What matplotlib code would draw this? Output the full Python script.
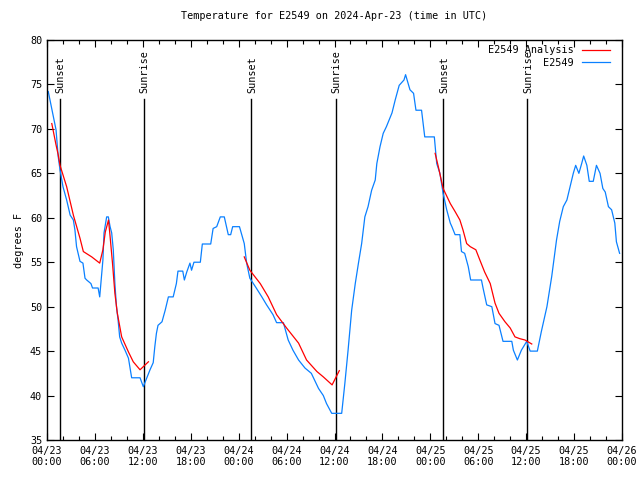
import matplotlib
matplotlib.use("Agg")
import matplotlib.pyplot as plt
from matplotlib.ticker import MultipleLocator

# ---- data (hours since 2024-04-23 00:00 UTC) ----
obs_hours = [0.16, 0.8, 1.13, 1.4, 1.63, 2.0, 2.46, 2.9, 3.3, 3.5, 3.7, 4.13, 4.5, 4.76, 4.97,
             5.5, 5.7, 6.4, 6.6, 7.0, 7.14, 7.47, 7.68, 7.9, 8.1, 8.3, 8.5, 8.7, 8.9, 9.1,
             9.35, 9.77, 10.2, 10.6, 11.65, 12.06, 12.5, 12.9, 13.3, 13.5, 13.7, 13.9, 14.4,
             14.8, 15.2, 15.8, 16.2, 16.4, 17.0, 17.2, 17.5, 17.9, 18.1, 18.4, 19.2, 19.45,
             20.5, 20.8, 21.25, 21.7, 22.2, 22.7, 23.0, 23.25, 24.1, 24.7, 25.0, 25.4, 26.2,
             26.9, 27.5, 28.3, 28.75, 29.6, 30.2, 30.8, 31.5, 32.3, 33.1, 34.0, 34.6, 35.0,
             35.65, 36.9, 37.3, 37.7, 38.15, 38.6, 39.0, 39.4, 39.8, 40.2, 40.65, 41.1, 41.3,
             41.7, 42.1, 42.5, 43.2, 43.6, 44.1, 44.7, 44.9, 45.45, 45.9, 46.2, 46.9, 47.3,
             48.5, 48.8, 49.2, 49.6, 50.05, 50.5, 50.7, 51.1, 51.7, 51.9, 52.3, 52.75, 53.05,
             54.4, 54.6, 55.06, 55.7, 56.1, 56.6, 57.1, 58.2, 58.4, 58.9, 59.4, 60.07, 60.5,
             61.4, 61.9, 62.6, 63.2, 63.8, 64.2, 64.65, 65.1, 65.5, 65.9, 66.2, 66.6, 66.95,
             67.2, 67.6, 67.9, 68.4, 68.8, 69.25, 69.6, 69.9, 70.3, 70.7, 71.1, 71.3, 71.7]
obs_temps = [74.2, 71.4, 69.9, 66.9, 65.4, 63.5, 62.0, 60.3, 59.75, 58.6, 56.75, 55.1, 54.9, 53.2, 53.0,
             52.6, 52.1, 52.1, 51.1, 55.25, 58.3, 60.1, 60.1, 59.0, 58.3, 56.4, 52.6, 50.0, 48.5, 46.6,
             45.9, 45.1, 44.2, 42.0, 42.0, 41.0, 42.0, 42.9, 43.7, 45.5, 47.0, 47.9, 48.3,
             49.6, 51.1, 51.1, 52.6, 54.0, 54.0, 53.0, 53.9, 54.9, 54.1, 55.0, 55.0, 57.05,
             57.05, 58.8, 59.0, 60.1, 60.1, 58.1, 58.1, 59.0, 59.0, 57.1, 54.9, 53.2, 52.1,
             51.1, 50.2, 49.1, 48.2, 48.2, 46.25, 45.1, 44.0, 43.1, 42.5, 40.8, 40.0, 39.1,
             38.0, 38.0, 41.4, 45.1, 49.6, 52.6, 54.9, 57.1, 60.1, 61.25, 63.1, 64.25, 66.1,
             68.0, 69.5, 70.25, 71.8, 73.25, 74.9, 75.5, 76.1, 74.4, 74.0, 72.1, 72.1, 69.1,
             69.1, 66.1, 65.0, 62.75, 60.9, 59.4, 59.0, 58.1, 58.1, 56.2, 56.0, 54.5, 53.0,
             53.0, 52.1, 50.2, 50.0, 48.1, 47.9, 46.1, 46.1, 45.1, 44.0, 45.1, 46.1, 45.0,
             45.0, 47.2, 50.0, 53.4, 57.5, 59.6, 61.25, 62.0, 63.5, 65.0, 65.9, 65.0, 66.1,
             66.95, 65.9, 64.1, 64.1, 65.9, 65.0, 63.3, 62.9, 61.25, 60.9, 59.4, 57.3, 56.0]

ana1_hours = [0.6, 1.13, 1.4, 1.63, 2.46, 3.3, 4.13, 4.55, 5.6, 6.6, 7.0, 7.3, 7.7, 7.9, 8.2,
              8.5, 8.8, 9.35, 10.2, 10.8, 11.65, 12.7]
ana1_temps = [70.6, 68.2, 67.1, 65.9, 63.5, 60.3, 57.7, 56.2, 55.6, 54.9, 56.4, 58.4, 59.75, 57.9, 54.9,
              51.5, 49.3, 46.6, 44.9, 43.8, 42.9, 43.8]
ana2_hours = [24.7, 25.4, 26.7, 27.7, 28.75, 30.0, 31.5, 32.5, 33.8, 34.6, 35.7, 36.6]
ana2_temps = [55.6, 54.1, 52.6, 51.1, 49.1, 47.6, 45.9, 44.0, 42.7, 42.1, 41.2, 42.8]
ana3_hours = [48.6, 49.0, 49.6, 50.5, 51.1, 51.7, 52.1, 52.55, 53.0, 53.7, 54.2, 54.8, 55.5,
              56.1, 56.6, 57.35, 58.0, 58.6, 59.2, 59.85, 60.7]
ana3_temps = [67.25, 65.75, 63.3, 61.6, 60.7, 59.75, 58.6, 57.1, 56.75, 56.4, 55.25, 53.9, 52.6,
              50.4, 49.25, 48.3, 47.6, 46.6, 46.4, 46.25, 45.8]

event_hours = [1.63, 12.15, 25.6, 36.15, 49.6, 60.15]
event_labels = ["Sunset", "Sunrise", "Sunset", "Sunrise", "Sunset", "Sunrise"]

tick_hours = list(range(0, 73, 6))
tick_labels = ["04/23\n00:00", "04/23\n06:00", "04/23\n12:00", "04/23\n18:00",
               "04/24\n00:00", "04/24\n06:00", "04/24\n12:00", "04/24\n18:00",
               "04/25\n00:00", "04/25\n06:00", "04/25\n12:00", "04/25\n18:00",
               "04/26\n00:00"]

FONT = "DejaVu Sans Mono"
FS = 7.3
plt.rcParams['font.family'] = [FONT]

fig = plt.figure(figsize=(6.4, 4.8), dpi=100)
ax = fig.add_axes([47/640, 40/480, 575/640, 400/480])

line_top = 73.4
for h, lab in zip(event_hours, event_labels):
    ax.plot([h, h], [35, line_top], color='black', lw=1.0, zorder=1)
    ax.text(h + 0.1, line_top + 0.6, lab, rotation=90, ha='center', va='bottom',
            fontsize=FS, family=FONT)

red = '#ff0000'
blue = '#0a80ff'
ax.plot(ana1_hours, ana1_temps, color=red, lw=0.9, label='E2549 Analysis', zorder=3)
ax.plot(ana2_hours, ana2_temps, color=red, lw=0.9, zorder=3)
ax.plot(ana3_hours, ana3_temps, color=red, lw=0.9, zorder=3)
ax.plot(obs_hours, obs_temps, color=blue, lw=0.9, label='E2549', zorder=2)

ax.set_xlim(0, 72)
ax.set_ylim(35, 80)
ax.set_xticks(tick_hours)
ax.set_xticklabels(tick_labels, fontsize=FS, family=FONT)
ax.xaxis.set_minor_locator(MultipleLocator(2))
ax.yaxis.set_major_locator(MultipleLocator(5))
ax.tick_params(axis='both', which='both', direction='in', top=True, right=True,
               labelsize=FS, width=0.8, color='black')
ax.tick_params(axis='both', which='major', length=5)
ax.tick_params(axis='both', which='minor', length=3)
ax.tick_params(axis='x', pad=4)
for sp in ax.spines.values():
    sp.set_linewidth(1.0)

ax.set_ylabel('degrees F', fontsize=FS, family=FONT, labelpad=4)
ax.set_title('Temperature for E2549 on 2024-Apr-23 (time in UTC)', fontsize=FS,
             family=FONT, pad=15)

leg = ax.legend(loc='upper right', bbox_to_anchor=(0.979, 0.987), frameon=False,
                fontsize=FS, markerfirst=False, handlelength=2.8, borderaxespad=0.0,
                labelspacing=0.25, handletextpad=0.8, borderpad=0.0)
for t in leg.get_texts():
    t.set_ha('right')
leg._legend_box.align = "right"

fig.savefig('out.png', dpi=100)
